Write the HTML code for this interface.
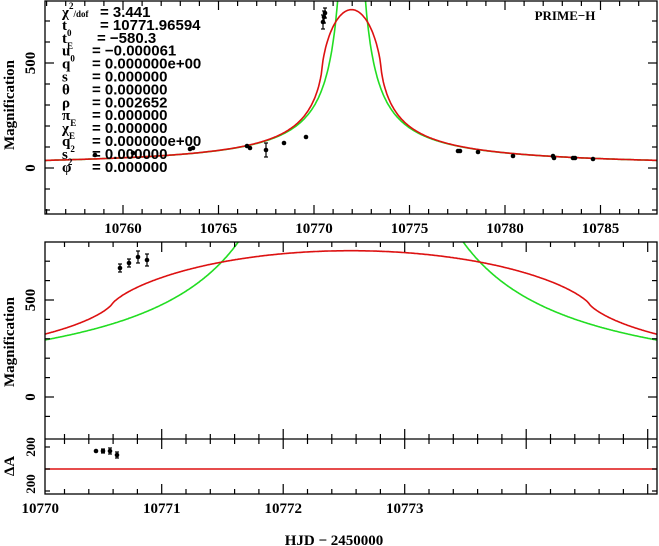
<!DOCTYPE html>
<html><head><meta charset="utf-8"><style>
body{margin:0;background:#fff}
svg{display:block;font-family:"Liberation Serif",serif;font-weight:bold}
</style></head><body>
<svg id="s" width="659" height="546" xmlns="http://www.w3.org/2000/svg"></svg>
<script>
const S=document.getElementById('s');let h='';
const t0=10771.96594,tE=580.3,u0=-0.000061,rho=0.002652;
function Aps(u){return (u*u+2)/(u*Math.sqrt(u*u+4));}
function Afs(u){
  const N=1500,rmax=u+rho;let s=0;
  for(let i=0;i<N;i++){const r=(i+0.5)/N*rmax;let th;
    if(r<rho-u)th=2*Math.PI;else if(r<Math.abs(u-rho)&&u>rho)th=0;
    else{let c=(r*r+u*u-rho*rho)/(2*r*u);c=Math.max(-1,Math.min(1,c));th=2*Math.acos(c);}
    s+=Aps(r)*r*th*(rmax/N);}
  return s/(Math.PI*rho*rho);}
function U(t){const p=(t-t0)/tE;return Math.sqrt(u0*u0+p*p);}
const P1={x0:45,x1:657,y0:1,y1:214,fx:t=>123+(t-10760)*19.1,fy:a=>168-a*0.21};
const P2={x0:45,x1:657,y0:242,y1:439,fx:t=>40.2+(t-10770)*121.5,fy:a=>397-a*0.194};
const P2c={x0:45,x1:657,fx:t=>46+(t-10770)*155,fy:P2.fy};
function curve(P,fn,col,id){let d='';const n=700;
  const k=P.fx(10771)-P.fx(10770);
  const tA=10770+(P.x0-P.fx(10770))/k,tB=10770+(P.x1-P.fx(10770))/k;
  for(let i=0;i<=n;i++){const t=tA+(tB-tA)*i/n;const y=P.fy(fn(t));d+=(i?'L':'M')+P.fx(t).toFixed(1)+' '+Math.max(-50,y).toFixed(1);}
  h+=`<path d="${d}" fill="none" stroke="${col}" stroke-width="1.6" clip-path="url(#${id})"/>`;}
h+=`<defs><clipPath id="c1"><rect x="45" y="1" width="612" height="213"/></clipPath><clipPath id="c2"><rect x="45" y="242" width="612" height="197"/></clipPath></defs>`;
curve(P1,t=>Aps(U(t)),'#22dd22','c1');curve(P1,t=>Afs(U(t)),'#dd1111','c1');
curve(P2c,t=>Aps(U(t)),'#22dd22','c2');curve(P2c,t=>Afs(U(t)),'#dd1111','c2');
h+=`<line x1="45" y1="469" x2="657" y2="469" stroke="#dd1111" stroke-width="1.6"/>`;
h+=`<rect x="45" y="1" width="612" height="213" fill="none" stroke="#000" stroke-width="1.3"/>`;
h+=`<rect x="45" y="242" width="612" height="252" fill="none" stroke="#000" stroke-width="1.3"/>`;
h+=`<line x1="45" y1="439" x2="657" y2="439" stroke="#000" stroke-width="1.3"/>`;
function tk(x1,y1,x2,y2){h+=`<line x1="${x1}" y1="${y1}" x2="${x2}" y2="${y2}" stroke="#000" stroke-width="1.2"/>`;}
for(let t=10756;t<=10788;t++){const x=P1.fx(t);if(x<45||x>657)continue;const L=t%5==0?9:5;tk(x,214,x,214-L);tk(x,1,x,1+L);}
for(let a=-200;a<=800;a+=100){const y=P1.fy(a);if(y<1||y>214)continue;const L=a%500==0?9:5;tk(45,y,45+L,y);tk(657,y,657-L,y);}
for(let i=0;i<=26;i++){const t=10770+i*0.2;const x=P2.fx(t);if(x<44||x>658)continue;const L=(i%5==0)?10:5;
  tk(x,242,x,242+L);tk(x,439,x,439-L);tk(x,439,x,439+L);tk(x,494,x,494-L);}
for(let a=-100;a<=800;a+=100){const y=P2.fy(a);if(y<242||y>439)continue;const L=a%500==0?9:5;tk(45,y,45+L,y);tk(657,y,657-L,y);}
[447,469,491].forEach(y=>{tk(45,y,50,y);tk(657,y,652,y);});
function tx(x,y,s,sz,anc,rot){h+=`<text x="${x}" y="${y}" font-size="${sz}" text-anchor="${anc||'middle'}"${rot?` transform="rotate(-90 ${x} ${y})"`:''}>${s}</text>`;}
[10760,10765,10770,10775,10780,10785].forEach(t=>tx(P1.fx(t),233,t,15));
[10770,10771,10772,10773].forEach(t=>tx(P2.fx(t),513,t,15));
tx(35,P1.fy(500),500,15,'middle',1);tx(35,P1.fy(0),0,15,'middle',1);
tx(35,P2.fy(500),500,15,'middle',1);tx(35,P2.fy(0),0,15,'middle',1);
tx(35,447,200,13,'middle',1);tx(35,484,200,13,'middle',1);
tx(14,105,'Magnification',15,'middle',1);tx(14,342,'Magnification',15,'middle',1);tx(14,466,'ΔA',15,'middle',1);
tx(334,545,'HJD − 2450000',15);
tx(565,20,'PRIME−H',13);
const sub=(c)=>`<tspan font-size="9" dy="6">${c}</tspan>`;
const rows=[['χ<tspan font-size="9" dy="-8">2</tspan><tspan font-size="9" dy="8">/dof</tspan>','= 3.441',100],
['t'+sub('0'),'= 10771.96594',100],['t'+sub('E'),'= −580.3',97],
['u'+sub('0'),'= −0.000061',92],['q','= 0.000000e+00',92],['s','= 0.000000',92],
['θ','= 0.000000',92],['ρ','= 0.002652',92],['π'+sub('E'),'= 0.000000',92],
['χ'+sub('E'),'= 0.000000',92],['q'+sub('2'),'= 0.000000e+00',92],
['s'+sub('2'),'= 0.000000',92],['φ','= 0.000000',92]];
rows.forEach((r,i)=>{const y=17+i*12.9;h+=`<text x="62" y="${y}" font-size="15" font-family="Liberation Serif">${r[0]}</text><text x="${r[2]}" y="${y}" font-size="15" font-family="Liberation Sans">${r[1]}</text>`;});
function pt(x,y,e){h+=`<circle cx="${x}" cy="${y}" r="2.3" fill="#000"/>`;if(e){tk(x,y-e,x,y+e);tk(x-2,y-e,x+2,y-e);tk(x-2,y+e,x+2,y+e);}}
[[95,155],[133,153],[190,149],[193,148],[247,146],[250,148],[266,150,7],[284,143],[306,137],[323,22,7],[324,17,6],[325,13,5],
[458,151],[460,151],[478,152],[513,156],[553,156],[554,158],[573,158],[575,158],[593,159]].forEach(p=>pt(...p));
[[120,268,4],[129,263,4],[138,257,6],[147,260,6]].forEach(p=>pt(...p));
[[96,451],[103,451,2],[110,451,3],[117,455,3]].forEach(p=>pt(...p));
S.innerHTML=h;
</script>
</body></html>
